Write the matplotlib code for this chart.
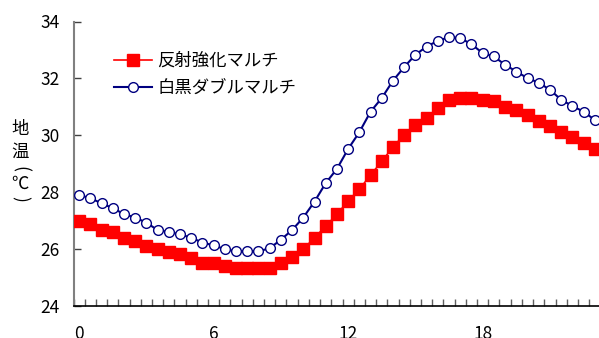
import matplotlib
matplotlib.use("Agg")
import matplotlib.pyplot as plt
import numpy as np

plt.rcParams['font.family'] = ['Noto Sans CJK JP', 'DejaVu Sans']

# half-hourly categories 0:00 .. 23:30
hours = [h / 2 for h in range(48)]
tick_labels = ["0", "6", "12", "18"]
tick_hours = [0, 6, 12, 18]

red_label = "反射強化マルチ"
blue_label = "白黒ダブルマルチ"

red_vals = [27.0, 26.88, 26.68, 26.59, 26.40, 26.30, 26.11, 25.99, 25.91, 25.82,
            25.70, 25.50, 25.50, 25.40, 25.32, 25.32, 25.32, 25.32, 25.50, 25.71,
            26.0, 26.40, 26.81, 27.22, 27.70, 28.10, 28.61, 29.08, 29.60, 30.01,
            30.37, 30.60, 30.95, 31.25, 31.31, 31.31, 31.25, 31.22, 31.01, 30.89,
            30.72, 30.52, 30.31, 30.13, 29.95, 29.72, 29.52, 29.35]

blue_vals = [27.90, 27.79, 27.61, 27.44, 27.23, 27.11, 26.93, 26.67, 26.60, 26.52,
             26.40, 26.23, 26.13, 26.0, 25.92, 25.92, 25.92, 26.03, 26.33, 26.67,
             27.11, 27.67, 28.32, 28.82, 29.52, 30.11, 30.83, 31.31, 31.92, 32.40,
             32.83, 33.12, 33.32, 33.45, 33.42, 33.20, 32.89, 32.77, 32.48, 32.24,
             32.01, 31.85, 31.60, 31.25, 31.03, 30.83, 30.54, 30.37]

W, H = 599, 338
fig = plt.figure(figsize=(W / 100, H / 100), dpi=100)

# axes in pixel coords: left spine x=73.5, bottom y=306, top y=21.5; extends past right edge
x0_px = 73.5
cat_w = 11.21
right_px = x0_px + cat_w * 48
ax = fig.add_axes([x0_px / W, (H - 306) / H, (right_px - x0_px) / W, (306 - 21.5) / H])

idx = np.arange(len(hours))
ax.plot(idx, red_vals, color='#FF0000', lw=1.2, marker='s', ms=8, mfc='#FF0000',
        mec='#FF0000', label=red_label, zorder=3)
ax.plot(idx, blue_vals, color='#000080', lw=1.5, marker='o', ms=7, mfc='white',
        mec='#000080', mew=1.0, label=blue_label, zorder=4)

ax.set_xlim(-0.5, 47.5)
ax.set_ylim(24, 34)
ax.set_yticks([24, 26, 28, 30, 32, 34])
ax.tick_params(axis='y', direction='in', length=5, width=1, color='#404040',
               labelsize=12.5, pad=10)

tick_idx = [hours.index(h) for h in tick_hours]
ax.set_xticks(tick_idx)
ax.set_xticklabels(tick_labels)
ax.set_xticks(np.arange(-0.5, 48, 1), minor=True)
ax.tick_params(axis='x', which='major', length=0, labelsize=12.5, pad=14)
ax.tick_params(axis='x', which='minor', direction='in', length=5, width=1, color='#606060')

for s in ['top', 'right']:
    ax.spines[s].set_visible(False)
ax.spines['left'].set_color('#808080')
ax.spines['left'].set_linewidth(1.5)
ax.spines['bottom'].set_color('black')
ax.spines['bottom'].set_linewidth(1.2)

leg = ax.legend(loc='upper left', bbox_to_anchor=(114 / W, (H - 52) / H),
                bbox_transform=fig.transFigure, frameon=False, fontsize=12.5,
                handlelength=2.2, handletextpad=0.3, labelspacing=0.55,
                borderpad=0, borderaxespad=0)

# vertical y-axis label (parentheses rotated for vertical writing)
ylab_chars = [("地", 129, 0), ("温", 152, 0), ("(", 169, -90), ("℃", 184, 0), (")", 199, -90)]
for ch, ypx, rot in ylab_chars:
    fig.text(20 / W, (H - ypx) / H, ch, ha='center', va='center', fontsize=12.5,
             rotation=rot)

fig.savefig("out.png", dpi=100)
